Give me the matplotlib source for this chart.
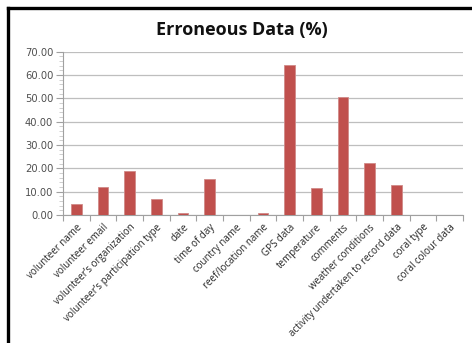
import numpy as np
import matplotlib.pyplot as plt
from matplotlib.lines import Line2D
from matplotlib.ticker import MultipleLocator

categories = [
    "volunteer name",
    "volunteer email",
    "volunteer’s organization",
    "volunteer’s participation type",
    "date",
    "time of day",
    "country name",
    "reef/location name",
    "GPS data",
    "temperature",
    "comments",
    "weather conditions",
    "activity undertaken to record data",
    "coral type",
    "coral colour data",
]
values = [4.8, 11.8, 18.9, 6.8, 0.85, 15.5, 0.0, 1.0, 64.3, 11.4, 50.4, 22.4, 12.7, 0.0, 0.0]
yticks = [0, 10, 20, 30, 40, 50, 60, 70]

plt.rcParams['font.family'] = ['Open Sans', 'DejaVu Sans']

fig = plt.figure(figsize=(4.72, 3.43), dpi=100)
ax = fig.add_axes([0.1335, 0.3732, 0.8475, 0.4761])

x = np.arange(len(categories))
ax.bar(x, values, width=0.4, color="#C0504D", edgecolor="#D08A88", linewidth=0.6, zorder=3)

ax.set_xlim(-0.5, len(categories) - 0.5)
ax.set_ylim(0, 70)
ax.set_yticks(yticks)
ax.set_yticklabels([f"{v:.2f}" for v in yticks], fontsize=7.2, color="#505050",
                   family="DejaVu Sans")
ax.yaxis.set_minor_locator(MultipleLocator(2))
ax.tick_params(axis="y", which="major", length=5, color="#A0A0A0", width=0.8, pad=2)
ax.tick_params(axis="y", which="minor", length=3, color="#C8C8C8", width=0.6)
ax.grid(axis="y", color="#BEBEBE", linewidth=0.9, zorder=0)

# category ticks sit on the boundaries between bars
ax.set_xticks(np.arange(len(categories) + 1) - 0.5)
ax.set_xticklabels([])
ax.set_xticks(x, minor=True)
ax.set_xticklabels(categories, minor=True, rotation=45, ha="right",
                   rotation_mode="anchor", fontsize=7.0, color="#262626")
ax.tick_params(axis="x", which="major", length=4, color="#A0A0A0", width=0.8)
ax.tick_params(axis="x", which="minor", length=0, pad=5)

for side in ["top", "right"]:
    ax.spines[side].set_visible(False)
ax.spines["left"].set_color("#A0A0A0")
ax.spines["bottom"].set_color("#A0A0A0")
ax.spines["left"].set_linewidth(0.8)
ax.spines["bottom"].set_linewidth(0.8)

fig.text(0.513, 0.913, "Erroneous Data (%)", ha="center", va="center",
         fontsize=13, fontweight="bold", color="#111111")

# frame around the chart area
fig.add_artist(Line2D([0.017, 1.0], [0.9767, 0.9767], color="black", linewidth=2.4))
fig.add_artist(Line2D([0.017, 0.017], [0.0, 0.9767], color="black", linewidth=2.4))

fig.savefig("out.png", dpi=100)
